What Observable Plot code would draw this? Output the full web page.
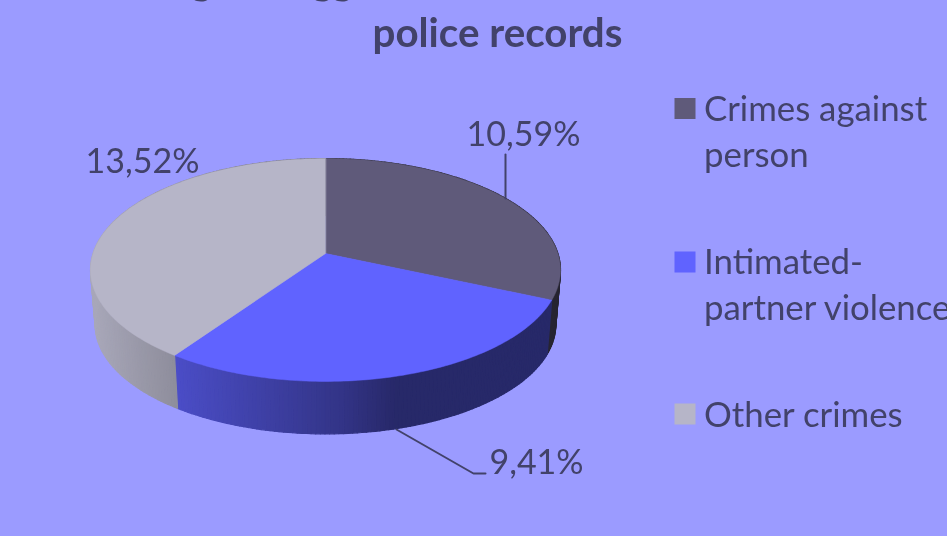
<!DOCTYPE html>
<html><head><meta charset="utf-8">
<script src="https://cdn.jsdelivr.net/npm/d3@7"></script>
<script src="https://cdn.jsdelivr.net/npm/@observablehq/plot@0.6"></script>
<style>
html,body{margin:0;padding:0;background:#9b9bff;overflow:hidden}
svg{display:block;filter:blur(0.7px)}
</style></head><body><div id="c"></div>
<script>
const categories = ["Crimes against person", "Intimated-partner violence", "Other crimes"];
const values = [10.59, 9.41, 13.52];
const valueLabels = ["10,59%", "9,41%", "13,52%"];
const topColors = ["#5f5a7a", "#6063ff", "#b6b5c8"];
const legendLines = [["Crimes against", "person"], ["Intimated-", "partner violence"], ["Other crimes"]];
const titleLine = "police records";

// 3D view of the disc (screen pixels via identity x/y scales)
const W = 947, H = 536;
const view = {cx: 325, cy: 253, A: 232.4, B: 109, p: 0.148, depth: 55, shrink: 0.98};
function project(a, low) {
  const w = 1 + view.p * Math.cos(a), s = low ? view.shrink : 1;
  return [view.cx + s * view.A * Math.sin(a) / w,
          view.cy + (low ? view.depth : 0) - s * view.B * Math.cos(a) / w];
}
const shade = d3.scaleLinear().domain([90, 175, 340, 395]).range([0.93, 0.78, 0.53, 0.41]).clamp(true);
const total = d3.sum(values);
let acc = 0;
const slices = values.map((v, i) => {
  const a0 = acc / total * 2 * Math.PI; acc += v;
  return {i, a0, a1: acc / total * 2 * Math.PI};
});
const STEP = Math.PI / 180;
const face = [], side = [];
for (const s of slices) {
  face.push({z: s.i, x: view.cx, y: view.cy});
  const n = Math.ceil((s.a1 - s.a0) / STEP);
  for (let k = 0; k <= n; k++) {
    const [x, y] = project(s.a0 + (s.a1 - s.a0) * k / n);
    face.push({z: s.i, x, y});
  }
  for (let k = 0; k < n; k++) {
    const a = s.a0 + (s.a1 - s.a0) * k / n, b = s.a0 + (s.a1 - s.a0) * (k + 1) / n;
    const pts = [project(a), project(b), project(b, true), project(a, true)];
    const c = d3.rgb(topColors[s.i]), f = shade(d3.mean(pts, p => p[0]));
    const col = d3.rgb(c.r * f, c.g * f, c.b * f).formatRgb();
    for (const [x, y] of pts) side.push({z: s.i + "-" + k, x, y, col});
  }
}

const leaders = [
  [{x: 505, y: 154}, {x: 505, y: 198}],
  [{x: 396, y: 429}, {x: 473, y: 473}, {x: 485, y: 473}]
];
const labels = [
  {t: valueLabels[0], x: 523, y: 135},
  {t: valueLabels[1], x: 536, y: 463},
  {t: valueLabels[2], x: 142, y: 162}
];
const textColor = "#42426a";
const legendY = [108, 261, 414];
const swatchY = [108, 261.5, 413.5];
const legendText = legendLines.flatMap((ls, i) => ls.map((t, j) => ({t, x: 703.5, y: legendY[i] + 1 + j * 46})));
const legendSwatches = swatchY.map((y, i) => ({x: 684.5, y, fill: topColors[i]}));
const clipped = [{t: "g", x: 201, y: -19}, {t: "g", x: 322, y: -19}, {t: "g", x: 342, y: -19}];

const chart = Plot.plot({
  width: W, height: H, margin: 0,
  style: {background: "#9b9bff", fontFamily: "Lato"},
  x: {type: "identity", axis: null},
  y: {type: "identity", axis: null},
  marks: [
    Plot.line(side, {x: "x", y: "y", z: "z", fill: "col", stroke: "col", strokeWidth: 1.2, curve: "linear-closed"}),
    Plot.line(face, {x: "x", y: "y", z: "z", fill: d => topColors[d.z], stroke: d => topColors[d.z], strokeWidth: 0.5, curve: "linear-closed"}),
    ...leaders.map(l => Plot.line(l, {x: "x", y: "y", stroke: textColor, strokeWidth: 2})),
    Plot.text(labels, {x: "x", y: "y", text: "t", fill: textColor, fontSize: 34, fontFamily: "Lato", textAnchor: "middle", lineAnchor: "middle"}),
    Plot.text(legendText, {x: "x", y: "y", text: "t", fill: textColor, fontSize: 34.8, fontFamily: "Lato", textAnchor: "start", lineAnchor: "middle"}),
    Plot.dot(legendSwatches, {x: "x", y: "y", r: 11.85, symbol: "square", fill: "fill"}),
    Plot.text([titleLine], {x: () => 497, y: () => 34, text: d => d, fill: textColor, fontSize: 40.3, fontWeight: 700, fontFamily: "Lato", textAnchor: "middle", lineAnchor: "middle"}),
    Plot.text(clipped, {x: "x", y: "y", text: "t", fill: textColor, fontSize: 40.3, fontWeight: 700, fontFamily: "Lato", textAnchor: "middle", lineAnchor: "middle"})
  ]
});
document.getElementById("c").append(chart);
</script></body></html>
